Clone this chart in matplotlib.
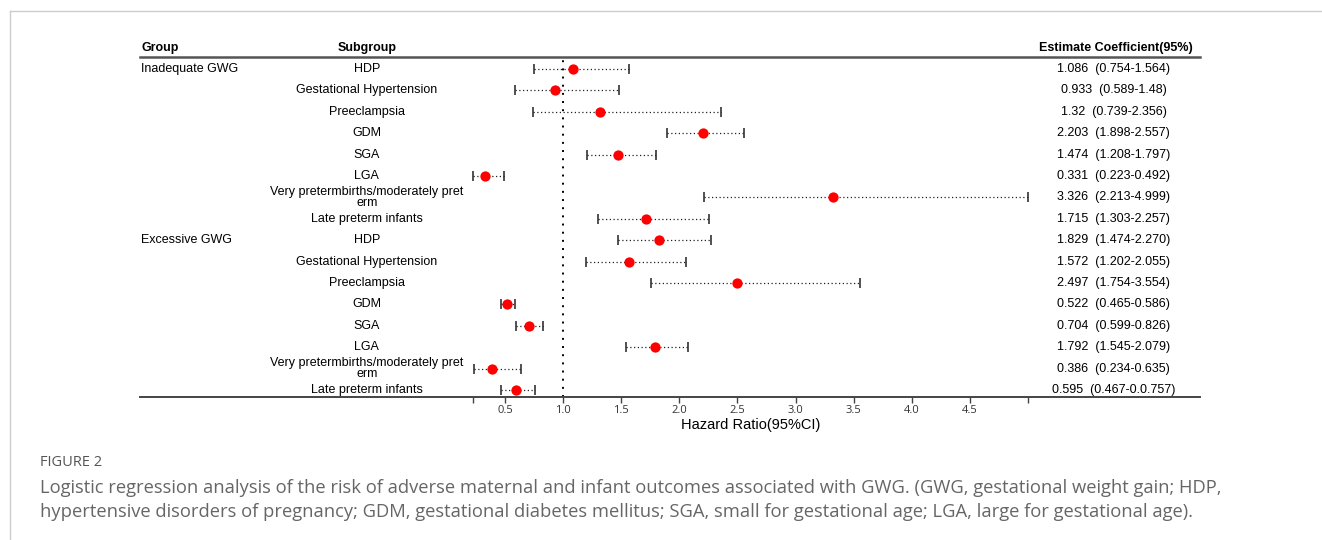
import numpy as np
import matplotlib.pyplot as plt
from matplotlib.lines import Line2D
from matplotlib import transforms

plt.rcParams['font.family'] = ['Liberation Sans', 'DejaVu Sans']

# ------------------------------------------------------------------
# Dati
# ------------------------------------------------------------------
groups = ["Inadequate GWG", "Excessive GWG"]
subgroups = ["HDP", "Gestational Hypertension", "Preeclampsia", "GDM", "SGA", "LGA",
             "Very pretermbirths/moderately pret\nerm", "Late preterm infants"]

est_inad = [1.086, 0.933, 1.32, 2.203, 1.474, 0.331, 3.326, 1.715]
low_inad = [0.754, 0.589, 0.739, 1.898, 1.208, 0.223, 2.213, 1.303]
up_inad = [1.564, 1.48, 2.356, 2.557, 1.797, 0.492, 4.999, 2.257]

est_exc = [1.829, 1.572, 2.497, 0.522, 0.704, 1.792, 0.386, 0.595]
low_exc = [1.474, 1.202, 1.754, 0.465, 0.599, 1.545, 0.234, 0.467]
up_exc = [2.270, 2.055, 3.554, 0.586, 0.826, 2.079, 0.635, 0.757]

est_labels = [
    "1.086  (0.754-1.564)", "0.933  (0.589-1.48)", "1.32  (0.739-2.356)",
    "2.203  (1.898-2.557)", "1.474  (1.208-1.797)", "0.331  (0.223-0.492)",
    "3.326  (2.213-4.999)", "1.715  (1.303-2.257)",
    "1.829  (1.474-2.270)", "1.572  (1.202-2.055)", "2.497  (1.754-3.554)",
    "0.522  (0.465-0.586)", "0.704  (0.599-0.826)", "1.792  (1.545-2.079)",
    "0.386  (0.234-0.635)", "0.595  (0.467-0.0.757)",
]

tick_vals = [0.5, 1.0, 1.5, 2.0, 2.5, 3.0, 3.5, 4.0, 4.5]

est = np.array(est_inad + est_exc)
low = np.array(low_inad + low_exc)
up = np.array(up_inad + up_exc)
rows = np.arange(len(est))

# ------------------------------------------------------------------
# Figura
# ------------------------------------------------------------------
W, H = 1322, 540
fig = plt.figure(figsize=(W / 100, H / 100), dpi=100)

# riquadro grigio chiaro della pagina
fig.add_artist(Line2D([10 / W, 10 / W], [0, 1 - 11 / H], color="#cccccc", lw=1))
fig.add_artist(Line2D([10 / W, 1], [1 - 11 / H, 1 - 11 / H], color="#cccccc", lw=1))

ax = fig.add_axes([140 / W, 1 - 397 / H, 1060 / W, 340 / H])
ax.set_facecolor("none")

# scala: 1.0 a x=563 px, 116.25 px per unità
px = 116.25
ax.set_xlim(1 - (563 - 140) / px, 1 + (1200 - 563) / px)
ax.set_ylim((397 - 69) / 21.4, (57 - 69) / 21.4)

# linea di riferimento
ax.axvline(1.0, color="black", lw=1.4, linestyle=(0, (1, 3.2)))

# intervalli di confidenza
ax.hlines(rows, low, up, color="#222222", lw=0.9, linestyle=(0, (1, 2)))
ax.plot(low, rows, "|", color="#222222", ms=7.5, mew=1.1)
ax.plot(up, rows, "|", color="#222222", ms=7.5, mew=1.1)
ax.plot(est, rows, "o", color="#ff0000", ms=7.4, mec="none")

# spine: linea di intestazione e linea di fondo
for s in ["left", "right"]:
    ax.spines[s].set_visible(False)
ax.spines["top"].set_color("#555555")
ax.spines["top"].set_linewidth(1.8)
ax.spines["bottom"].set_color("#444444")
ax.spines["bottom"].set_linewidth(1.4)

ax.set_yticks([])
ax.set_xticks([low.min()] + tick_vals + [up.max()])
ax.set_xticklabels([""] + [f"{t:.1f}" for t in tick_vals] + [""],
                   fontsize=8, color="#333333", family=["Open Sans", "DejaVu Sans"])
ax.tick_params(axis="x", length=4.5, width=1, color="#444444", pad=1.2)

ax.text((low.min() + up.max()) / 2, 16.62, "Hazard Ratio(95%CI)", ha="center",
        va="center", fontsize=10.5, clip_on=False)

# colonne della tabella
tr = transforms.blended_transform_factory(ax.transAxes, ax.transData)
x_group, x_sub, x_est = 0.001, 0.214, 0.9185
fs = 9

ax.text(x_group, -1, "Group", transform=tr, ha="left", va="center",
        fontsize=fs, fontweight="bold")
ax.text(x_sub, -1, "Subgroup", transform=tr, ha="center", va="center",
        fontsize=fs, fontweight="bold")
ax.text(x_est + 0.002, -1, "Estimate Coefficient(95%)", transform=tr, ha="center",
        va="center", fontsize=fs, fontweight="bold")

ax.text(x_group, 0, groups[0], transform=tr, ha="left", va="center", fontsize=fs)
ax.text(x_group, 8, groups[1], transform=tr, ha="left", va="center", fontsize=fs)

for i in rows:
    ax.text(x_sub, i, subgroups[i % 8], transform=tr, ha="center", va="center",
            fontsize=fs, linespacing=0.95)
    ax.text(x_est, i, est_labels[i], transform=tr, ha="center", va="center",
            fontsize=fs)

# didascalia
cap_font = ["Open Sans", "DejaVu Sans"]
fig.text(40 / W, 1 - 462 / H, "FIGURE 2", ha="left", va="center", fontsize=10.5,
         color="#555555", family=cap_font)
fig.text(40 / W, 1 - 488 / H,
         "Logistic regression analysis of the risk of adverse maternal and infant outcomes "
         "associated with GWG. (GWG, gestational weight gain; HDP,",
         ha="left", va="center", fontsize=13.2, color="#666666", family=cap_font)
fig.text(40 / W, 1 - 512 / H,
         "hypertensive disorders of pregnancy; GDM, gestational diabetes mellitus; SGA, "
         "small for gestational age; LGA, large for gestational age).",
         ha="left", va="center", fontsize=13.2, color="#666666", family=cap_font)

fig.savefig("out.png", dpi=100)
